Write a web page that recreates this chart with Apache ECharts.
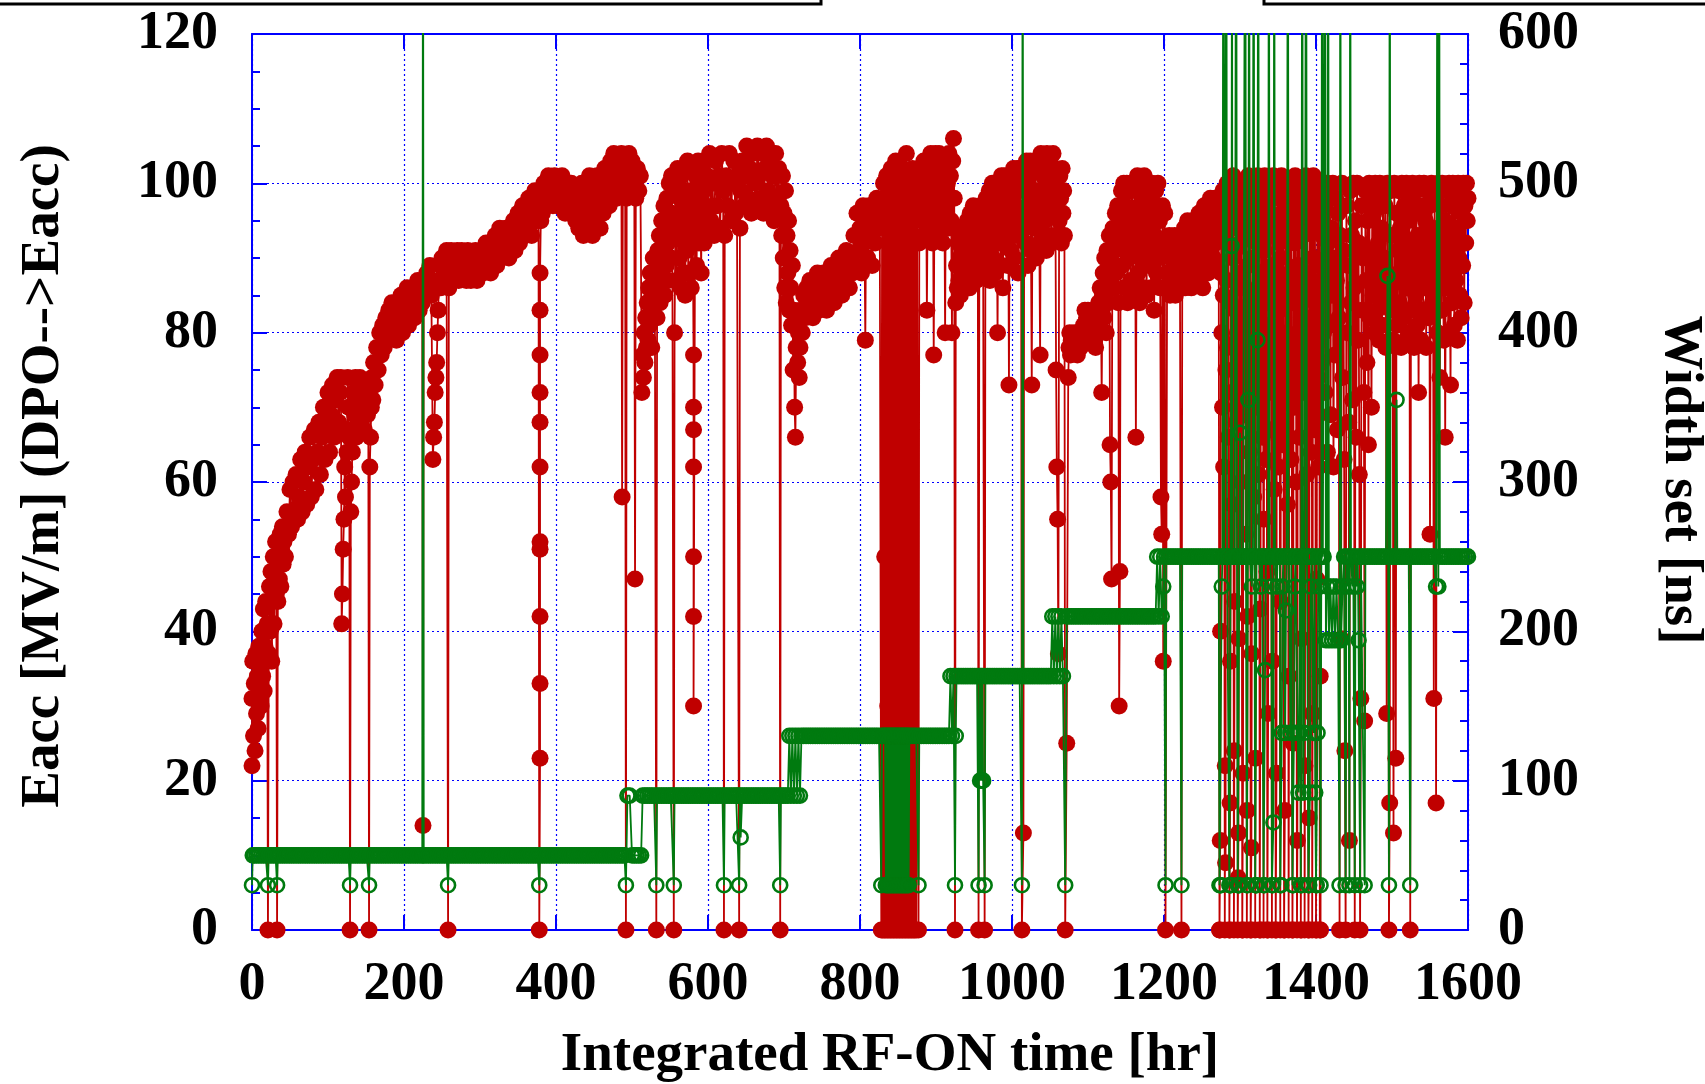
<!DOCTYPE html>
<html>
<head>
<meta charset="utf-8">
<script src="https://cdn.jsdelivr.net/npm/echarts@6/dist/echarts.min.js"></script>
<style>html,body{margin:0;padding:0;background:#fff;}#chart{width:1705px;height:1084px;}</style>
</head>
<body>
<div id="chart"></div>
<script>
// ---- tick labels ----
const xTicks = [0, 200, 400, 600, 800, 1000, 1200, 1400, 1600];
const yLeftTicks = [0, 20, 40, 60, 80, 100, 120];
const yRightTicks = [0, 100, 200, 300, 400, 500, 600];

// ---- Eacc [MV/m] (red, left axis): [RF-ON hr, MV/m] ----
const eaccRun1 = [[0,22],[0,31],[1,36],[2,26],[3,33],[4,24],[5,37],[6,29],[7,34],[8,27],[9,38],[10,31],[11,35],[12,30],[13,40],[14,34],[15,43],[16,32],[17,38],[18,44],[19,36],[20,41],[21,0],[22,37],[23,46],[24,40],[25,48],[26,36],[27,44],[28,50],[29,41],[30,47],[31,52],[32,45],[33,0],[34,44],[35,50],[36,47],[37,53],[38,46],[39,51],[40,54],[41,49],[42,52],[44,50],[46,56],[48,53],[50,59],[52,54],[54,60],[56,56],[58,61],[60,55],[62,58],[64,63],[66,56],[68,60],[70,64],[72,57],[74,62],[76,66],[78,58],[80,63],[82,67],[84,59],[86,64],[88,68],[90,61],[92,66],[94,70],[96,63],[98,67],[100,72],[102,64],[104,69],[106,73],[108,66],[110,71],[112,74],[114,68],[116,72],[117,74],[118,41],[119,45],[120,51],[121,55],[122,62],[123,58],[124,67],[125,64],[126,74],[127,70],[128,66],[129,0],[130,56],[131,60],[132,64],[133,67],[134,72],[135,69],[136,74],[137,66],[138,71],[139,73],[140,68],[142,74],[144,70],[146,72],[148,67],[150,73],[152,69],[153,71],[154,0],[155,62],[156,66],[157,70],[158,74],[159,71],[160,76],[162,73],[164,78],[166,75],[168,80],[170,77],[172,81],[174,78],[176,82],[178,79],[180,83],[182,80],[184,84],[186,81],[188,83],[190,79],[192,84],[194,82],[196,85],[198,80],[200,84],[202,82],[204,86],[206,81],[208,85],[210,83],[212,86],[214,82],[216,85],[218,87],[220,83],[222,86],[224,84],[225,14],[226,87],[228,85],[230,88],[232,86],[234,89],[236,85],[238,63],[239,66],[240,68],[241,72],[242,74],[243,76],[244,80],[245,83],[246,87],[247,89],[248,86],[250,90],[252,87],[254,89],[256,91],[258,0],[259,86],[260,89],[262,91],[264,87],[266,90],[268,88],[270,91],[272,87],[274,89],[276,91],[278,88],[280,90],[282,87],[284,91],[286,89],[288,87],[290,90],[292,88],[294,91],[296,87],[298,90],[300,89],[302,91],[304,88],[306,90],[308,92],[310,89],[312,91],[314,88],[316,92],[318,90],[320,93],[322,89],[324,92],[326,94],[328,90],[330,93],[332,91],[334,94],[336,92],[338,90],[340,94],[342,92],[344,95],[346,91],[348,94],[350,96],[352,92],[354,95],[356,97],[358,93],[360,96],[362,94],[364,98],[366,95],[368,93],[370,97],[372,99],[374,95],[376,98],[377,96],[378,0],[379,23],[379,33],[379,42],[379,51],[379,52],[379,62],[379,68],[379,72],[379,77],[379,83],[379,88],[380,95],[381,98],[382,96],[384,100],[386,97],[388,99],[390,101],[392,98],[394,100],[396,97],[398,101],[400,99],[402,97],[404,100],[406,98],[408,101],[410,99],[412,96],[414,100],[416,98],[418,96],[420,100],[422,97],[424,99],[426,95],[428,98],[430,94],[432,97],[434,100],[436,93],[438,96],[440,99],[442,94],[444,101],[446,97],[448,93],[450,99],[452,95],[454,101],[456,97],[458,94],[460,100],[462,96],[464,102],[466,98],[468,101],[470,97],[472,103],[474,99],[476,104],[478,101],[480,98],[482,103],[484,100],[486,104],[487,58],[488,101],[490,103],[491,99],[492,0],[493,98],[494,102],[496,104],[498,100],[500,103],[502,99],[503,101],[504,47],[505,98],[507,102],[509,99],[511,101]];
const eaccRun2 = [[513,72],[514,77],[515,74],[516,80],[517,76],[518,82],[519,78],[520,84],[521,79],[522,86],[523,81],[524,88],[525,83],[526,78],[527,86],[528,90],[529,84],[530,88],[532,0],[533,82],[534,91],[535,86],[536,93],[537,84],[538,89],[539,95],[540,87],[541,92],[542,97],[543,85],[544,94],[545,89],[546,98],[547,92],[548,87],[549,100],[550,95],[551,90],[552,101],[553,96],[555,0],[556,80],[557,93],[558,99],[559,87],[560,102],[561,95],[562,90],[563,98],[564,86],[565,101],[566,93],[567,88],[568,102],[569,96],[570,85],[571,99],[572,91],[573,103],[574,88],[575,97],[576,93],[577,102],[578,86],[579,99],[580,94],[581,77],[581,70],[581,67],[581,62],[581,50],[581,42],[581,30],[583,96],[584,101],[585,89],[586,98],[587,103],[588,92],[589,97],[590,100],[591,88],[592,102],[593,95],[594,99],[595,92],[596,103],[597,97],[598,94],[599,101],[600,96],[602,104],[604,95],[606,100],[608,93],[610,103],[612,97],[614,101],[616,94],[618,104],[620,99],[621,0],[622,93],[624,101],[626,97],[628,104],[630,95],[632,100],[634,103],[636,96],[638,101],[641,0],[642,94],[643,99],[645,103],[647,97],[649,101],[651,105],[653,98],[655,102],[657,96],[659,104],[661,100],[663,97],[665,105],[667,101],[669,98],[671,104],[673,96],[675,102],[677,105],[679,99],[681,103],[683,97],[685,101],[687,95],[689,104],[691,98],[693,102],[694,96],[695,0],[696,97],[697,93],[698,101],[699,90],[700,96],[701,86],[702,99],[703,84],[704,93],[705,88],[706,95],[707,83],[708,91],[709,86],[710,81],[711,89],[712,75],[713,83],[714,70],[715,66],[716,78],[717,82],[718,76],[719,80],[720,74]];
const eaccRun3 = [[721,78],[722,83],[724,80],[726,85],[728,82],[730,86],[732,83],[734,87],[736,84],[738,82],[740,86],[742,84],[744,88],[746,83],[748,86],[750,84],[752,88],[754,85],[756,83],[758,87],[760,85],[762,89],[764,86],[766,84],[768,88],[770,86],[772,90],[774,87],[776,85],[778,89],[780,87],[782,91],[784,88],[786,86],[788,90],[790,88],[792,93],[794,89],[796,96],[798,91],[800,94],[802,88],[804,97],[806,92],[807,79],[808,95],[810,90],[812,97],[814,93],[816,89],[818,96],[820,92],[822,98],[824,94],[826,97],[828,0],[829,95],[830,0],[831,100],[832,0],[832.5,50],[833,98],[834,0],[835,101],[836,0],[836.5,30],[837,97],[838,0],[839,99],[840,0],[841,102],[842,0],[843,96],[844,0],[845,100],[846,0],[847,103],[848,0],[849,98],[850,0],[851,101],[852,0],[853,99],[854,0],[855,102],[856,0],[857,97],[858,0],[859,100],[860,0],[861,104],[862,0],[863,99],[864,0],[865,101],[866,0],[867,98],[868,0],[869,102],[870,0],[871,96],[872,0],[873,100],[874,0],[875,99],[877,0],[878,92],[879,98],[880,95],[881,101],[882,97],[883,93],[884,103],[885,98],[886,95],[887,101],[888,83],[889,97],[890,103],[891,94],[892,100],[893,104],[894,97],[895,92],[896,101],[897,77],[898,99],[899,104],[900,96],[901,102],[902,93],[903,98],[904,104],[905,95],[906,100],[907,103],[908,97],[909,92],[910,101],[911,98],[912,80],[913,103],[914,96],[915,100],[916,94],[917,104],[918,98],[919,101],[920,95],[921,80],[922,103],[923,106],[924,98],[925,0]];
const eaccRun4 = [[926,84],[927,89],[928,86],[929,92],[930,87],[931,90],[932,85],[933,93],[934,88],[935,91],[936,86],[937,94],[938,89],[939,92],[940,87],[941,95],[942,90],[943,93],[944,86],[945,96],[946,91],[947,88],[948,94],[949,97],[950,89],[951,93],[952,96],[953,87],[954,91],[955,95],[956,0],[957,90],[958,93],[959,97],[960,88],[961,94],[962,91],[964,0],[965,93],[966,98],[967,89],[968,95],[969,92],[970,99],[971,87],[972,96],[973,93],[974,100],[975,90],[976,97],[977,94],[978,88],[979,99],[980,95],[981,80],[982,100],[983,92],[984,97],[985,89],[986,101],[987,94],[988,86],[989,98],[990,101],[991,92],[992,96],[993,100],[994,89],[995,97],[996,73],[997,101],[998,94],[999,91],[1000,99],[1001,96],[1002,102],[1003,90],[1004,97],[1005,100],[1006,93],[1007,102],[1008,88],[1009,96],[1010,99],[1011,102],[1012,94],[1013,0],[1015,13],[1016,95],[1017,100],[1018,92],[1019,103],[1020,97],[1021,89],[1022,101],[1023,95],[1024,103],[1025,91],[1026,73],[1027,99],[1028,102],[1029,94],[1030,97],[1031,103],[1032,90],[1033,99],[1034,95],[1035,102],[1036,92],[1037,77],[1038,104],[1039,97],[1040,93],[1041,101],[1042,103],[1043,95],[1044,99],[1045,91],[1046,104],[1047,97],[1048,93],[1049,101],[1050,103],[1051,96],[1052,92],[1053,100],[1054,104],[1055,97],[1056,93],[1057,101],[1058,75],[1059,62],[1060,55],[1061,37],[1062,95],[1063,101],[1064,98],[1065,92],[1066,102],[1067,96],[1068,99],[1069,93],[1070,0],[1072,25]];
const eaccRun5 = [[1074,74],[1075,78],[1076,80],[1077,77],[1078,79],[1080,78],[1082,80],[1084,79],[1086,77],[1088,80],[1090,78],[1092,79],[1094,81],[1096,83],[1098,82],[1100,83],[1102,80],[1104,82],[1106,79],[1108,81],[1110,78],[1112,82],[1113,80],[1114,84],[1115,81],[1116,86],[1117,83],[1118,72],[1119,85],[1120,88],[1121,82],[1122,90],[1123,86],[1124,80],[1125,91],[1126,87],[1127,84],[1128,93],[1129,65],[1130,60],[1131,47],[1132,89],[1133,94],[1134,86],[1135,91],[1136,96],[1137,88],[1138,93],[1139,97],[1140,84],[1141,30],[1142,48],[1143,95],[1144,99],[1145,89],[1146,94],[1147,100],[1148,86],[1149,97],[1150,92],[1151,100],[1152,84],[1153,95],[1154,90],[1155,99],[1156,87],[1157,93],[1158,100],[1159,85],[1160,96],[1161,91],[1162,99],[1163,66],[1164,94],[1165,101],[1166,88],[1167,97],[1168,84],[1169,93],[1170,100],[1171,90],[1172,96],[1173,86],[1174,101],[1175,92],[1176,98],[1177,85],[1178,95],[1179,100],[1180,89],[1181,94],[1182,98],[1183,86],[1184,100],[1185,91],[1186,96],[1187,83],[1188,93],[1189,99],[1190,88],[1191,97],[1192,100],[1193,90],[1194,95],[1195,86],[1196,58],[1197,53],[1198,97],[1199,36],[1200,92],[1201,96],[1202,0]];
const eaccRun6 = [[1204,86],[1205,91],[1206,88],[1207,93],[1208,85],[1209,90],[1210,87],[1211,92],[1212,86],[1213,89],[1214,93],[1215,85],[1216,91],[1217,88],[1218,92],[1219,86],[1220,90],[1221,88],[1223,0],[1224,87],[1225,92],[1226,89],[1227,94],[1228,86],[1229,91],[1230,88],[1231,95],[1232,87],[1233,92],[1234,89],[1235,94],[1236,86],[1237,91],[1238,95],[1239,88],[1240,93],[1241,90],[1242,95],[1243,87],[1244,92],[1245,89],[1246,96],[1247,88],[1248,93],[1249,90],[1250,95],[1251,86],[1252,91],[1253,97],[1254,89],[1255,94],[1256,91],[1257,97],[1258,88],[1259,95],[1260,92],[1261,98],[1262,89],[1263,94],[1264,97],[1265,90],[1266,95],[1267,98],[1268,92],[1269,96],[1270,89],[1271,97],[1272,94]];
const eaccRun6Trips = [[1273,0],[1273.5,0],[1274,12],[1274.5,40],[1275,88],[1275.5,97],[1276,80],[1276.5,93],[1277,70],[1277.5,99],[1278,85],[1278.5,62],[1279,95],[1280,0],[1280.5,22],[1281,9],[1281.5,75],[1282,98],[1282.5,87],[1283,100],[1283.5,78],[1284,92],[1284.5,66],[1285,96],[1286,0],[1286.5,0],[1287,17],[1287.5,36],[1288,84],[1288.5,99],[1289,72],[1289.5,94],[1290,57],[1290.5,90],[1291,101],[1292,0],[1292.5,24],[1293,44],[1293.5,91],[1294,83],[1294.5,100],[1295,68],[1295.5,95],[1296,79],[1296.5,98],[1297,0],[1297.5,7],[1298,13],[1298.5,39],[1299,86],[1299.5,97],[1300,74],[1300.5,92],[1301,60],[1301.5,99],[1302,88],[1303,0],[1303.5,0],[1304,21],[1304.5,94],[1305,81],[1305.5,100],[1306,69],[1306.5,96],[1307,86],[1307.5,53],[1308,93],[1309,0],[1309.5,16],[1310,42],[1310.5,89],[1311,101],[1311.5,77],[1312,95],[1312.5,64],[1313,98],[1313.5,84],[1314,0],[1314.5,0],[1315,11],[1315.5,37],[1316,90],[1316.5,99],[1317,73],[1317.5,93],[1318,58],[1318.5,100],[1319,82],[1319.5,96],[1320,0],[1320.5,23],[1321,85],[1321.5,97],[1322,70],[1322.5,92],[1323,101],[1323.5,79],[1324,94],[1324.5,61],[1325,98],[1326,0],[1326.5,0],[1327,43],[1327.5,88],[1328,100],[1328.5,75],[1329,95],[1329.5,66],[1330,99],[1330.5,86],[1331,0],[1331.5,55],[1332,91],[1332.5,101],[1333,80],[1333.5,94],[1334,63],[1334.5,97],[1335,87],[1335.5,48],[1336,0],[1336.5,0],[1337,29],[1337.5,84],[1338,99],[1338.5,72],[1339,93],[1339.5,100],[1340,81],[1340.5,96],[1341,67],[1342,0],[1342.5,36],[1343,89],[1343.5,101],[1344,76],[1344.5,94],[1345,59],[1345.5,98],[1346,85],[1347,0],[1347.5,0],[1348,21],[1348.5,87],[1349,100],[1349.5,73],[1350,95],[1350.5,62],[1351,99],[1351.5,83],[1352,92],[1353,0],[1353.5,44],[1354,90],[1354.5,101],[1355,78],[1355.5,96],[1356,65],[1356.5,99],[1357,86],[1358,0],[1358.5,0],[1359,16],[1359.5,85],[1360,97],[1360.5,71],[1361,93],[1361.5,100],[1362,80],[1362.5,57],[1363,95],[1364,0],[1364.5,34],[1365,88],[1365.5,100],[1366,75],[1366.5,94],[1367,63],[1367.5,98],[1368,84],[1369,0],[1369.5,0],[1370,25],[1370.5,86],[1371,99],[1371.5,70],[1372,92],[1372.5,101],[1373,79],[1373.5,96],[1374,60],[1375,0],[1375.5,12],[1376,89],[1376.5,100],[1377,77],[1377.5,95],[1378,66],[1378.5,98],[1379,87],[1379.5,50],[1380,0],[1380.5,0],[1381,39],[1381.5,84],[1382,99],[1382.5,72],[1383,93],[1383.5,100],[1384,81],[1384.5,96],[1385,0],[1385.5,22],[1386,88],[1386.5,101],[1387,76],[1387.5,94],[1388,61],[1388.5,98],[1389,85],[1390,0],[1390.5,0],[1391,15],[1391.5,86],[1392,100],[1392.5,73],[1393,95],[1393.5,64],[1394,99],[1394.5,82],[1395,0],[1395.5,29],[1396,90],[1396.5,101],[1397,78],[1397.5,94],[1398,67],[1398.5,97],[1399,86],[1400,0],[1400.5,0],[1401,47],[1401.5,89],[1402,100],[1402.5,74],[1403,96],[1403.5,62],[1404,98],[1404.5,84],[1405,0],[1405.5,34],[1406,0],[1406.5,87],[1407,99],[1407.5,76],[1408,93],[1408.5,100],[1409,85],[1409.5,95],[1410,80]];
const eaccRun6Late = [[1411,97],[1412,72],[1413,88],[1414,100],[1415,64],[1416,92],[1417,81],[1418,99],[1419,69],[1420,94],[1421,85],[1422,100],[1423,62],[1424,90],[1425,77],[1426,98],[1427,87],[1428,67],[1429,96],[1430,82],[1431,0],[1432,93],[1433,39],[1434,100],[1435,74],[1436,91],[1437,63],[1438,24],[1439,0],[1440,97],[1441,80],[1442,89],[1443,68],[1444,12],[1445,99],[1446,84],[1447,93],[1448,71],[1449,100],[1450,86],[1451,0],[1452,95],[1453,66],[1454,100],[1455,79],[1456,92],[1457,61],[1458,0],[1459,31],[1460,97],[1461,83],[1462,90],[1463,72],[1464,28],[1465,99],[1466,87],[1467,76],[1468,95],[1469,65],[1470,100],[1471,82],[1472,91],[1473,70],[1474,98],[1475,85],[1476,96],[1477,80],[1478,100],[1479,89],[1480,83],[1481,97],[1482,92],[1483,79],[1484,100],[1485,86],[1486,94],[1487,81],[1488,99],[1489,90],[1490,84],[1491,97],[1492,78],[1493,29],[1494,100],[1495,88],[1496,0],[1497,17],[1498,99],[1499,83],[1500,93],[1501,79],[1502,13],[1503,100],[1504,87],[1505,23],[1506,96],[1507,81],[1508,91],[1509,99],[1510,84],[1511,94],[1512,78],[1513,100],[1514,88],[1515,82],[1516,97],[1517,91],[1518,79],[1519,100],[1520,86],[1521,95],[1522,80],[1523,98],[1524,0],[1525,92],[1526,83],[1527,100],[1528,89],[1529,78],[1530,96],[1531,85],[1532,99],[1533,81],[1534,93],[1535,72],[1536,100],[1537,87],[1538,79],[1539,97],[1540,90],[1541,83],[1542,100],[1543,86],[1544,95],[1545,78],[1546,99],[1547,88],[1548,82],[1549,97],[1550,53],[1551,91],[1552,100],[1553,84],[1554,94],[1555,31],[1556,98],[1557,86],[1558,17],[1559,92],[1560,80],[1561,100],[1562,89],[1563,74],[1564,97],[1565,83],[1566,100],[1567,91],[1568,79],[1569,95],[1570,66],[1571,99],[1572,86],[1573,93],[1574,80],[1575,100],[1576,88],[1577,73],[1578,97],[1579,84],[1580,100],[1581,91],[1582,81],[1583,98],[1584,87],[1585,94],[1586,79],[1587,100],[1588,90],[1589,85],[1590,99],[1591,82],[1592,96],[1593,89],[1594,100],[1595,84],[1596,97],[1597,92],[1598,100],[1599,95],[1600,98]];

// ---- Width set [ns] (green, right axis): [RF-ON hr, ns]; 800 = off-scale spike ----
const widthRun1 = [[0,30],[1,50],[3,50],[6,50],[9,50],[12,50],[15,50],[18,50],[21,30],[22,50],[25,50],[28,50],[31,50],[33,30],[34,50],[37,50],[40,50],[43,50],[46,50],[49,50],[52,50],[55,50],[58,50],[61,50],[64,50],[67,50],[70,50],[73,50],[76,50],[79,50],[82,50],[85,50],[88,50],[91,50],[94,50],[97,50],[100,50],[103,50],[106,50],[109,50],[112,50],[115,50],[118,50],[121,50],[124,50],[127,50],[129,30],[130,50],[133,50],[136,50],[139,50],[142,50],[145,50],[148,50],[151,50],[154,30],[155,50],[158,50],[161,50],[164,50],[167,50],[170,50],[173,50],[176,50],[179,50],[182,50],[185,50],[188,50],[191,50],[194,50],[197,50],[200,50],[203,50],[206,50],[209,50],[212,50],[215,50],[218,50],[221,50],[224,50],[225,800],[226,50],[229,50],[232,50],[235,50],[238,50],[241,50],[244,50],[247,50],[250,50],[253,50],[256,50],[258,30],[259,50],[262,50],[265,50],[268,50],[271,50],[274,50],[277,50],[280,50],[283,50],[286,50],[289,50],[292,50],[295,50],[298,50],[301,50],[304,50],[307,50],[310,50],[313,50],[316,50],[319,50],[322,50],[325,50],[328,50],[331,50],[334,50],[337,50],[340,50],[343,50],[346,50],[349,50],[352,50],[355,50],[358,50],[361,50],[364,50],[367,50],[370,50],[373,50],[376,50],[378,30],[379,50],[382,50],[385,50],[388,50],[391,50],[394,50],[397,50],[400,50],[403,50],[406,50],[409,50],[412,50],[415,50],[418,50],[421,50],[424,50],[427,50],[430,50],[433,50],[436,50],[439,50],[442,50],[445,50],[448,50],[451,50],[454,50],[457,50],[460,50],[463,50],[466,50],[469,50],[472,50],[475,50],[478,50],[481,50],[484,50],[487,50],[490,50],[492,30],[494,90],[497,90],[500,50],[503,50],[506,50],[509,50],[512,50]];
const widthRun2 = [[514,90],[517,90],[520,90],[523,90],[526,90],[529,90],[532,30],[533,90],[536,90],[539,90],[542,90],[545,90],[548,90],[551,90],[553,90],[555,30],[556,90],[559,90],[562,90],[565,90],[568,90],[571,90],[574,90],[577,90],[580,90],[583,90],[586,90],[589,90],[592,90],[595,90],[598,90],[601,90],[604,90],[607,90],[610,90],[613,90],[616,90],[619,90],[621,30],[622,90],[625,90],[628,90],[631,90],[634,90],[637,90],[639,90],[641,30],[642,90],[643,62],[645,90],[648,90],[651,90],[654,90],[657,90],[660,90],[663,90],[666,90],[669,90],[672,90],[675,90],[678,90],[681,90],[684,90],[687,90],[690,90],[693,90],[695,30],[696,90],[699,90],[702,90],[705,90],[707,130],[709,90],[711,130],[713,90],[715,130],[717,90],[719,130],[721,90],[723,130]];
const widthRun3 = [[726,130],[729,130],[732,130],[735,130],[738,130],[741,130],[744,130],[747,130],[750,130],[753,130],[756,130],[759,130],[762,130],[765,130],[768,130],[771,130],[774,130],[777,130],[780,130],[783,130],[786,130],[789,130],[792,130],[795,130],[798,130],[801,130],[804,130],[807,130],[810,130],[813,130],[816,130],[819,130],[822,130],[825,130],[828,30],[829,130],[831,130],[833,130],[834,30],[835,130],[836,30],[837,130],[838,30],[839,130],[840,30],[841,130],[842,30],[843,130],[844,30],[845,130],[846,30],[847,130],[848,30],[849,130],[850,30],[851,130],[852,30],[853,130],[854,30],[855,130],[856,30],[857,130],[858,30],[859,130],[860,30],[861,130],[862,30],[863,130],[864,30],[865,130],[868,130],[871,130],[874,130],[877,30],[878,130],[881,130],[884,130],[887,130],[890,130],[893,130],[896,130],[899,130],[902,130],[905,130],[908,130],[911,130],[914,130],[917,130],[919,170],[921,130],[923,170],[925,30]];
const widthRun4 = [[926,130],[927,170],[930,170],[933,170],[936,170],[939,170],[942,170],[945,170],[948,170],[951,170],[954,170],[956,30],[957,170],[958,100],[959,170],[960,100],[961,170],[962,100],[964,30],[965,170],[968,170],[971,170],[974,170],[977,170],[980,170],[983,170],[986,170],[989,170],[992,170],[995,170],[998,170],[1001,170],[1004,170],[1007,170],[1010,170],[1013,30],[1014,800],[1015,170],[1018,170],[1021,170],[1024,170],[1027,170],[1030,170],[1033,170],[1036,170],[1039,170],[1042,170],[1045,170],[1048,170],[1051,170],[1053,210],[1055,170],[1057,210],[1059,170],[1061,210],[1063,170],[1065,210],[1067,170],[1070,30]];
const widthRun5 = [[1072,210],[1075,210],[1078,210],[1081,210],[1084,210],[1087,210],[1090,210],[1093,210],[1096,210],[1099,210],[1102,210],[1105,210],[1108,210],[1111,210],[1114,210],[1117,210],[1120,210],[1123,210],[1126,210],[1129,210],[1132,210],[1135,210],[1138,210],[1141,210],[1144,210],[1147,210],[1150,210],[1153,210],[1156,210],[1159,210],[1162,210],[1165,210],[1168,210],[1171,210],[1174,210],[1177,210],[1180,210],[1183,210],[1186,210],[1189,210],[1191,250],[1193,210],[1195,250],[1197,210],[1199,230],[1200,250],[1202,30]];
const widthRun6 = [[1203,250],[1206,250],[1209,250],[1212,250],[1215,250],[1218,250],[1221,250],[1223,30],[1224,250],[1227,250],[1230,250],[1233,250],[1236,250],[1239,250],[1242,250],[1245,250],[1248,250],[1251,250],[1254,250],[1257,250],[1260,250],[1263,250],[1266,250],[1269,250],[1272,250],[1273,30],[1274,30],[1275,30],[1276,230],[1277,250],[1278,800],[1279,250],[1280.5,250],[1282,800],[1283,250],[1284.5,250],[1286,30],[1287,30],[1288,30],[1289,458],[1289.5,800],[1290,250],[1291.5,250],[1293,250],[1294.5,250],[1295,800],[1296,250],[1297,30],[1298,30],[1299,30],[1300,333],[1301,250],[1302.5,250],[1304,250],[1305.5,250],[1307,800],[1308,250],[1309,30],[1310,30],[1311,355],[1312,800],[1313,250],[1314.5,250],[1315.5,230],[1316.5,250],[1318,800],[1319,250],[1320,30],[1321,30],[1322,30],[1323,395],[1324,800],[1325,250],[1326.5,250],[1327.5,230],[1329,250],[1330.5,250],[1331,30],[1332,30],[1333,174],[1334,250],[1335.5,250],[1337,250],[1338,800],[1339,250],[1340.5,250],[1341.5,230],[1342,30],[1343,30],[1344,72],[1345,800],[1346,250],[1347.5,250],[1348.5,230],[1349.5,250],[1351,250],[1352.5,250],[1353,30],[1354,30],[1355,132],[1356,230],[1357,250],[1358.5,250],[1359.5,132],[1360.5,214],[1361.5,250],[1363,800],[1364,250],[1365.5,250],[1366.5,132],[1367.5,250],[1369,30],[1370,30],[1371,132],[1372,230],[1373,250],[1374.5,250],[1376,132],[1377,92],[1378,132],[1379,250],[1380,30],[1381,30],[1382,800],[1383,92],[1384,132],[1385,250],[1386.5,250],[1387,800],[1388,250],[1389.5,250],[1390,30],[1391,30],[1392,92],[1393,230],[1394,250],[1395.5,250],[1397,132],[1398,250],[1399,92],[1400,30],[1401,30],[1402,132],[1403,250],[1404.5,250],[1405,230],[1406,30],[1407,250],[1408,800],[1409,250],[1410,250],[1412,800],[1413,194],[1415,230],[1416,800],[1417,194],[1419,230],[1421,194],[1423,230],[1425,194],[1427,230],[1429,194],[1431,30],[1432,800],[1433,194],[1435,230],[1437,250],[1439,30],[1440,250],[1442,230],[1443,250],[1444,30],[1445,800],[1446,250],[1448,230],[1449,250],[1451,30],[1452,250],[1454,230],[1455,250],[1456,194],[1458,30],[1459,250],[1461,250],[1464,30],[1465,250],[1468,250],[1471,250],[1474,250],[1477,250],[1480,250],[1483,250],[1486,250],[1489,250],[1492,250],[1494,438],[1496,30],[1497,800],[1498,250],[1501,250],[1504,250],[1506,355],[1507,250],[1510,250],[1513,250],[1516,250],[1519,250],[1522,250],[1524,30],[1525,250],[1528,250],[1531,250],[1534,250],[1537,250],[1540,250],[1543,250],[1546,250],[1549,250],[1552,250],[1555,250],[1558,230],[1560,800],[1561,230],[1562,800],[1563,250],[1566,250],[1569,250],[1572,250],[1575,250],[1578,250],[1581,250],[1584,250],[1587,250],[1590,250],[1593,250],[1596,250],[1599,250],[1600,250]];

const RED = '#C00000';
const GREEN = '#007A0F';
const BLUE = '#0000FF';
const FONT = '"Liberation Serif", "Times New Roman", serif';

const eaccData = [].concat(eaccRun1, eaccRun2, eaccRun3, eaccRun4, eaccRun5, eaccRun6, eaccRun6Trips, eaccRun6Late);
const widthData = [].concat(widthRun1, widthRun2, widthRun3, widthRun4, widthRun5, widthRun6);

const chart = echarts.init(document.getElementById('chart'), null, {renderer: 'canvas'});
const labelStyle = {fontFamily: FONT, fontWeight: 'bold', fontSize: 54, color: '#000'};
const axisLineStyle = {show: true, onZero: false, lineStyle: {color: BLUE, width: 2}};
const gridLineStyle = {show: true, lineStyle: {color: BLUE, width: 1.2, type: [2, 3]}};

chart.setOption({
  animation: false,
  backgroundColor: '#fff',
  grid: {left: 252, right: 237, top: 34, bottom: 154, containLabel: false},
  xAxis: [
    {type: 'value', min: 0, max: 1600, interval: 200, position: 'bottom',
     axisLine: axisLineStyle,
     axisTick: {show: true, inside: true, length: 15, lineStyle: {color: BLUE, width: 2}},
     axisLabel: Object.assign({margin: 28, formatter: v => xTicks.includes(v) ? String(v) : ''}, labelStyle),
     splitLine: gridLineStyle},
    {type: 'value', min: 0, max: 1600, interval: 200, position: 'top',
     axisLine: axisLineStyle,
     axisTick: {show: true, inside: true, length: 15, lineStyle: {color: BLUE, width: 2}},
     axisLabel: {show: false}, splitLine: {show: false}}
  ],
  yAxis: [
    {type: 'value', min: 0, max: 120, interval: 20, position: 'left',
     axisLine: axisLineStyle,
     axisTick: {show: true, inside: true, length: 15, lineStyle: {color: BLUE, width: 2}},
     minorTick: {show: true, splitNumber: 4, length: 8, lineStyle: {color: BLUE, width: 2}},
     axisLabel: Object.assign({margin: 34, formatter: v => yLeftTicks.includes(v) ? String(v) : ''}, labelStyle),
     splitLine: gridLineStyle},
    {type: 'value', min: 0, max: 600, interval: 100, position: 'right',
     axisLine: axisLineStyle,
     axisTick: {show: true, inside: true, length: 15, lineStyle: {color: BLUE, width: 2}},
     minorTick: {show: true, splitNumber: 5, length: 8, lineStyle: {color: BLUE, width: 2}},
     axisLabel: Object.assign({margin: 30, formatter: v => yRightTicks.includes(v) ? String(v) : ''}, labelStyle),
     splitLine: {show: false}}
  ],
  series: [
    {name: 'Eacc', type: 'line', xAxisIndex: 0, yAxisIndex: 0, data: eaccData,
     symbol: 'circle', symbolSize: 17, clip: true,
     itemStyle: {color: RED}, lineStyle: {color: RED, width: 1.8}, z: 2},
    {name: 'Width', type: 'line', xAxisIndex: 0, yAxisIndex: 1, data: widthData,
     symbol: 'circle', symbolSize: 14, clip: true,
     itemStyle: {color: 'rgba(0,0,0,0)', borderColor: GREEN, borderWidth: 2.6},
     lineStyle: {color: GREEN, width: 1.8}, z: 3}
  ],
  graphic: [
    {type: 'rect', shape: {x: -10, y: -60, width: 831, height: 64}, style: {fill: 'none', stroke: '#000', lineWidth: 3}, silent: true},
    {type: 'rect', shape: {x: 1264, y: -60, width: 470, height: 64}, style: {fill: 'none', stroke: '#000', lineWidth: 3}, silent: true},
    {type: 'text', x: 44, y: 476, rotation: Math.PI / 2,
     style: {text: 'Eacc [MV/m] (DPO-->Eacc)', font: 'bold 55px ' + FONT, fill: '#000', textAlign: 'center', textVerticalAlign: 'middle', align: 'center', verticalAlign: 'middle'}},
    {type: 'text', x: 1680, y: 480, rotation: -Math.PI / 2,
     style: {text: 'Width set [ns]', font: 'bold 55px ' + FONT, fill: '#000', textAlign: 'center', textVerticalAlign: 'middle', align: 'center', verticalAlign: 'middle'}},
    {type: 'text', x: 890, y: 1056,
     style: {text: 'Integrated RF-ON time [hr]', font: 'bold 55px ' + FONT, fill: '#000', textAlign: 'center', textVerticalAlign: 'middle', align: 'center', verticalAlign: 'middle'}}
  ]
});
</script>
</body>
</html>
